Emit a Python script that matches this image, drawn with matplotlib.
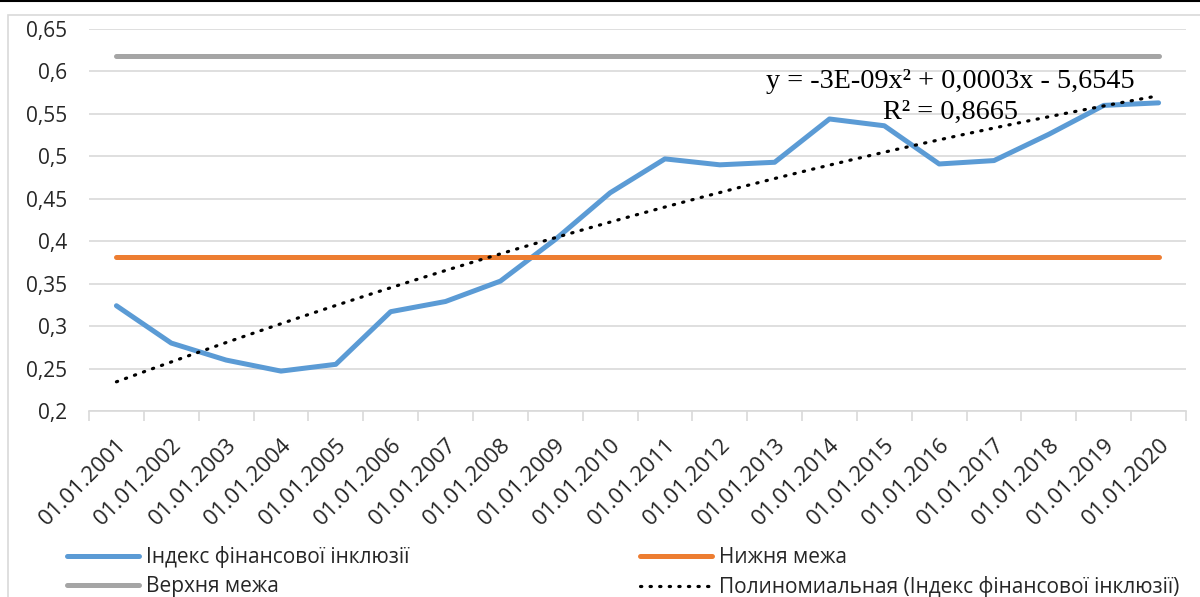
import numpy as np
import matplotlib
matplotlib.use("Agg")
import matplotlib.pyplot as plt
from matplotlib.patches import Rectangle
from matplotlib.lines import Line2D

dates = [f"01.01.{y}" for y in range(2001, 2021)]
index_values = [0.324, 0.280, 0.260, 0.247, 0.255, 0.317, 0.329, 0.353, 0.402, 0.457,
                0.497, 0.490, 0.493, 0.544, 0.536, 0.491, 0.495, 0.526, 0.560, 0.563]
lower_bound = 0.382
upper_bound = 0.618
yticks = [0.2, 0.25, 0.3, 0.35, 0.4, 0.45, 0.5, 0.55, 0.6, 0.65]
ytick_labels = ["0,2", "0,25", "0,3", "0,35", "0,4", "0,45", "0,5", "0,55", "0,6", "0,65"]

label_index = "Індекс фінансової інклюзії"
label_lower = "Нижня межа"
label_upper = "Верхня межа"
label_trend = "Полиномиальная (Індекс фінансової інклюзії)"
equation = "y = -3E-09x² + 0,0003x - 5,6545"
r2_text = "R² = 0,8665"

BLUE = "#5B9BD5"
ORANGE = "#ED7D31"
GRAY = "#A5A5A5"
GRID = "#D9D9D9"
TXT = "#262626"
FONT = "Open Sans"
FS = 15

W, H = 1200, 597
fig = plt.figure(figsize=(W / 100, H / 100), dpi=100)

# outer chart frame and top rule
fig.add_artist(Rectangle((8 / W, -0.1), 1.2, 1 - 15 / H + 0.1, transform=fig.transFigure,
                         fill=False, edgecolor=GRID, linewidth=1.2))
fig.add_artist(Line2D([0, 1], [1 - 1 / H, 1 - 1 / H], transform=fig.transFigure,
                      color="black", linewidth=1.5))

ax = fig.add_axes([89 / W, 1 - 411 / H, (1186 - 89) / W, (411 - 29) / H])

n = len(dates)
x = np.arange(n)

ax.set_ylim(0.2, 0.65)
ax.set_xlim(-0.5, n - 0.5)
ax.set_yticks(yticks)
ax.set_yticklabels(ytick_labels, fontsize=FS, family=FONT, color=TXT)
ax.yaxis.grid(True, color=GRID, linewidth=1.2)
ax.set_axisbelow(True)

for s in ["top", "right", "left"]:
    ax.spines[s].set_visible(False)
ax.spines["bottom"].set_color(GRID)
ax.spines["bottom"].set_linewidth(1.2)
ax.tick_params(axis="y", length=0, pad=16)

# category ticks at boundaries, labels at centres
ax.set_xticks(np.arange(-0.5, n, 1.0), minor=False)
ax.set_xticklabels([])
ax.tick_params(axis="x", which="major", length=7, color=GRID, width=1.2)
ax.set_xticks(x, minor=True)
ax.set_xticklabels(dates, minor=True, rotation=45, ha="right", va="top",
                   rotation_mode="anchor", fontsize=16, family=FONT, color=TXT)
ax.tick_params(axis="x", which="minor", length=0, pad=17)

lw = 3.6
ax.plot(x, index_values, color=BLUE, linewidth=lw, solid_capstyle="round", zorder=3)
ax.plot(x, [lower_bound] * n, color=ORANGE, linewidth=lw, solid_capstyle="round", zorder=3)
ax.plot(x, [upper_bound] * n, color=GRAY, linewidth=lw, solid_capstyle="round", zorder=3)

# quadratic trend fitted to the index
dots = (0, (0.4, 2.6))
coef = np.polyfit(x, index_values, 2)
xs = np.linspace(0, n - 1, 200)
ax.plot(xs, np.polyval(coef, xs), color="black", linewidth=2.3,
        linestyle=dots, dash_capstyle="round", zorder=4)

ax.text(15.2, 0.588, equation, family="Liberation Serif", fontsize=20.3,
        ha="center", va="center", color="black", zorder=5)
ax.text(15.2, 0.5514, r2_text, family="Liberation Serif", fontsize=20.3,
        ha="center", va="center", color="black", zorder=5)

# legend (column-major order gives two rows of two)
handles = [
    Line2D([], [], color=BLUE, linewidth=lw, solid_capstyle="round"),
    Line2D([], [], color=GRAY, linewidth=lw, solid_capstyle="round"),
    Line2D([], [], color=ORANGE, linewidth=lw, solid_capstyle="round"),
    Line2D([], [], color="black", linewidth=2.3, linestyle=dots, dash_capstyle="round"),
]
labels = [label_index, label_upper, label_lower, label_trend]
fig.legend(handles, labels, loc="upper left", bbox_to_anchor=(67 / W, 1 - 546 / H),
           ncol=2, frameon=False, prop={"family": FONT, "size": FS},
           borderpad=0, borderaxespad=0,
           handlelength=3.45, handletextpad=0.33, columnspacing=11.1,
           labelspacing=0.38, labelcolor=TXT)

fig.savefig("out.png", dpi=100, facecolor="white")
